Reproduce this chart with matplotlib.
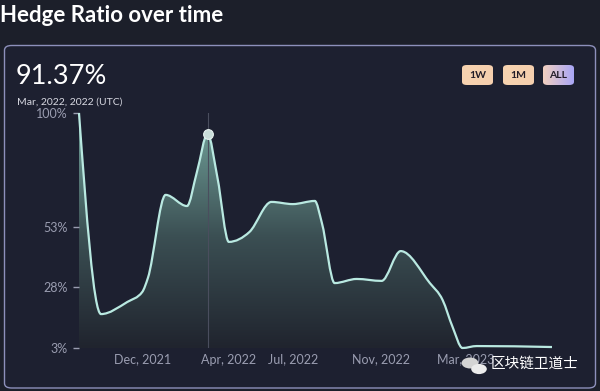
import numpy as np
import pandas as pd
import matplotlib
matplotlib.use('Agg')
import matplotlib.pyplot as plt
import matplotlib.dates as mdates
from matplotlib.path import Path
from matplotlib.patches import PathPatch, FancyBboxPatch
from matplotlib.colors import LinearSegmentedColormap

# --- data ---
dates = ['2021-09-02', '2021-10-03', '2021-11-09', '2021-11-30', '2021-12-08',
         '2022-01-02', '2022-02-01', '2022-02-15', '2022-03-02', '2022-03-16',
         '2022-04-01', '2022-04-30', '2022-05-31', '2022-06-30', '2022-07-31',
         '2022-08-10', '2022-08-28', '2022-09-28', '2022-11-02', '2022-11-29',
         '2023-01-09', '2023-01-27', '2023-02-10', '2023-02-24', '2023-03-16',
         '2023-06-30']
hedge_ratio = [100.0, 17.0, 22.0, 26.1, 31.9,
               66.2, 61.6, 75.6, 91.37, 73.2,
               46.8, 50.9, 63.3, 62.4, 63.7,
               54.6, 29.8, 31.5, 30.7, 43.0,
               29.8, 22.8, 11.7, 3.0, 3.8,
               3.4]
highlight_date = '2022-03-02'
highlight_value = 91.37

y_ticks = [3, 28, 53, 100]
y_tick_labels = ['3%', '28%', '53%', '100%']
x_tick_dates = ['2021-12-01', '2022-04-01', '2022-07-01', '2022-11-01', '2023-03-01']
x_tick_labels = ['Dec, 2021', 'Apr, 2022', 'Jul, 2022', 'Nov, 2022', 'Mar, 2023']

BG = '#1c1f2a'
CARD = '#1d2030'
LINE = '#b9e9e1'
TICK = '#9a9db0'


def monotone_path(x, y):
    # monotone cubic (like d3 curveMonotoneX) expressed as bezier segments
    x = np.asarray(x, float)
    y = np.asarray(y, float)
    n = len(x)
    h = np.diff(x)
    s = np.diff(y) / h
    t = np.zeros(n)
    for i in range(1, n - 1):
        if s[i - 1] * s[i] <= 0:
            t[i] = 0
        else:
            p = (s[i - 1] * h[i] + s[i] * h[i - 1]) / (h[i - 1] + h[i])
            t[i] = np.sign(s[i - 1]) * min(abs(s[i - 1]), abs(s[i]), 0.5 * abs(p)) * 2
    t[0] = (3 * s[0] - t[1]) / 2
    t[-1] = (3 * s[-1] - t[-2]) / 2
    verts = [(x[0], y[0])]
    codes = [Path.MOVETO]
    for i in range(n - 1):
        d = h[i] / 3
        verts += [(x[i] + d, y[i] + d * t[i]), (x[i + 1] - d, y[i + 1] - d * t[i + 1]), (x[i + 1], y[i + 1])]
        codes += [Path.CURVE4] * 3
    return verts, codes


fig = plt.figure(figsize=(6, 3.91), dpi=100)
fig.patch.set_facecolor(BG)

# card
card = FancyBboxPatch((4.5 / 600, 3 / 391), 591 / 600, (391 - 45.5 - 3) / 391,
                      boxstyle='round,pad=0,rounding_size=0.012', transform=fig.transFigure,
                      facecolor=CARD, edgecolor='#8d90bb', linewidth=1.0, zorder=-2)
fig.patches.append(card)

fig.text(0, 375 / 391, 'Hedge Ratio over time', color='white', fontsize=16,
         fontweight='bold', family='Lato', va='center', ha='left')
fig.text(16 / 600, 315 / 391, '91.37%', color='white', fontsize=19.5, family='Lato',
         va='center', ha='left')
fig.text(17 / 600, 289 / 391, 'Mar, 2022, 2022 (UTC)', color='#d8d9e2', fontsize=7.5,
         family='Lato', va='center', ha='left')

# range buttons
buttons = [('1W', 462, ['#f7d3b0', '#f5cfae']), ('1M', 503, ['#f7d3b0', '#f5cfae']),
           ('ALL', 543, ['#f2d0c0', '#a9a6f6'])]
for label, bx, cols in buttons:
    b = FancyBboxPatch((bx / 600, 306 / 391), 31 / 600, 20 / 391,
                       boxstyle='round,pad=0,rounding_size=0.008', transform=fig.transFigure,
                       facecolor='none', edgecolor='none', zorder=-1)
    fig.patches.append(b)
    bax = fig.add_axes([bx / 600, 306 / 391, 31 / 600, 20 / 391], zorder=3)
    bax.axis('off')
    bim = bax.imshow(np.linspace(0, 1, 64).reshape(1, -1),
                     cmap=LinearSegmentedColormap.from_list('b', cols),
                     aspect='auto', extent=[0, 1, 0, 1], transform=bax.transAxes)
    bim.set_clip_path(b)
    bax.text(0.5, 0.5, label, color='#221c28', fontsize=7.5, fontweight='bold',
             family='Lato', ha='center', va='center', transform=bax.transAxes)

ax = fig.add_axes([79 / 600, 43 / 391, 473 / 600, 235 / 391])
ax.set_facecolor('none')

xd = mdates.date2num(pd.to_datetime(dates))
xlo, xhi = xd[0], xd[-1]
ax.set_xlim(xlo, xhi)
ax.set_ylim(3, 100)

verts, codes = monotone_path(xd, hedge_ratio)

# gradient fill under the curve
fill_verts = verts + [(xd[-1], 3), (xd[0], 3), verts[0]]
fill_codes = codes + [Path.LINETO, Path.LINETO, Path.CLOSEPOLY]
fill_patch = PathPatch(Path(fill_verts, fill_codes), facecolor='none', edgecolor='none')
ax.add_patch(fill_patch)
cmap = LinearSegmentedColormap.from_list('g', ['#20242e', '#3b4f53', '#6f9e97'])
grad = np.linspace(0, 1, 256).reshape(-1, 1)
im = ax.imshow(grad, cmap=cmap, origin='lower', aspect='auto',
               extent=[xlo, xhi, 3, 95], zorder=1)
im.set_clip_path(fill_patch)

# hover line and point
hx = mdates.date2num(pd.Timestamp(highlight_date))
ax.plot([hx, hx], [3, 100], color='#4a4e5e', linewidth=0.8, zorder=2)

ax.add_patch(PathPatch(Path(verts, codes), facecolor='none', edgecolor=LINE,
                       linewidth=1.6, zorder=3, clip_on=False))
ax.plot([hx], [highlight_value], 'o', markersize=7, color='#c9ddd9',
        markeredgecolor='#e8f2f0', markeredgewidth=0.8, zorder=4)

ax.set_yticks(y_ticks)
ax.set_yticklabels(y_tick_labels)
ax.set_xticks(mdates.date2num(pd.to_datetime(x_tick_dates)))
ax.set_xticklabels(x_tick_labels)
ax.tick_params(axis='y', colors=TICK, labelsize=9, length=4, width=1, pad=4)
ax.tick_params(axis='x', colors=TICK, labelsize=9, length=0, pad=4)
for lab in ax.get_xticklabels() + ax.get_yticklabels():
    lab.set_family('Lato')
for sp in ax.spines.values():
    sp.set_visible(False)

# watermark
fig.patches.append(plt.Circle((470 / 600, 28 / 391), 0.014, transform=fig.transFigure,
                              facecolor='#d4d4d4', edgecolor='none', zorder=5))
fig.patches.append(plt.Circle((479 / 600, 22 / 391), 0.013, transform=fig.transFigure,
                              facecolor='#ececec', edgecolor='none', zorder=5))
fig.text(578 / 600, 27 / 391, '区块链卫道士', color='white', fontsize=10.5,
         family=['Noto Sans CJK SC', 'DejaVu Sans'], ha='right', va='center', zorder=6)

fig.savefig('out.png', dpi=100, facecolor=BG)
